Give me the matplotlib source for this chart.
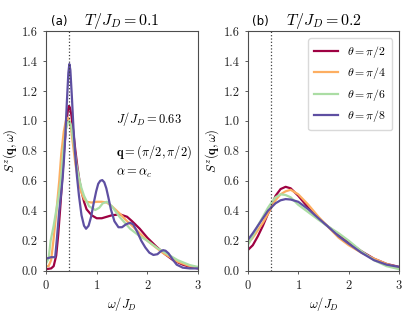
import numpy as np
import matplotlib
matplotlib.use("Agg")
import matplotlib.pyplot as plt

plt.rcParams["font.family"] = "serif"
plt.rcParams["font.serif"] = ["cmr10", "DejaVu Serif"]
plt.rcParams["mathtext.fontset"] = "cm"
plt.rcParams["axes.formatter.use_mathtext"] = True

# panel (a), T/J_D = 0.1
a_x_pi2 = [0, 0.1, 0.15, 0.2, 0.24, 0.28, 0.32, 0.36, 0.4, 0.43, 0.45, 0.47, 0.5, 0.54, 0.58, 0.62, 0.66,
           0.7, 0.75, 0.8, 0.9, 1.0, 1.1, 1.2, 1.3, 1.46, 1.6, 1.7, 1.85, 2.0, 2.18, 2.35, 2.51, 2.7,
           2.84, 3.0]
a_y_pi2 = [0.01, 0.015, 0.03, 0.1, 0.24, 0.42, 0.62, 0.82, 0.98, 1.07, 1.10, 1.09, 1.04, 0.92, 0.8, 0.69,
           0.6, 0.53, 0.46, 0.41, 0.37, 0.35, 0.35, 0.36, 0.37, 0.376, 0.36, 0.33, 0.28, 0.22, 0.16, 0.11,
           0.07, 0.04, 0.026, 0.015]
a_x_pi4 = [0, 0.05, 0.1, 0.145, 0.2, 0.26, 0.3, 0.35, 0.39, 0.42, 0.44, 0.47, 0.5, 0.54, 0.58, 0.62,
           0.66, 0.7, 0.75, 0.8, 0.9, 1.0, 1.1, 1.2, 1.3, 1.46, 1.6, 1.7, 1.85, 2.0, 2.15, 2.3, 2.45,
           2.6, 2.8, 3.0]
a_y_pi4 = [0.03, 0.03, 0.07, 0.2, 0.38, 0.6, 0.78, 0.93, 1.0, 1.02, 1.02, 0.99, 0.93, 0.82, 0.71, 0.63,
           0.57, 0.52, 0.48, 0.46, 0.455, 0.46, 0.46, 0.455, 0.43, 0.38, 0.33, 0.3, 0.25, 0.2, 0.16, 0.12,
           0.09, 0.06, 0.035, 0.02]
a_x_pi6 = [0, 0.05, 0.09, 0.15, 0.2, 0.25, 0.29, 0.34, 0.39, 0.43, 0.46, 0.5, 0.55, 0.6, 0.65, 0.7,
           0.75, 0.85, 0.97, 1.05, 1.12, 1.2, 1.3, 1.45, 1.66, 1.85, 2.0, 2.2, 2.4, 2.6, 2.84, 3.0]
a_y_pi6 = [0.05, 0.08, 0.2, 0.3, 0.4, 0.5, 0.6, 0.8, 0.94, 0.99, 1.0, 0.96, 0.84, 0.71, 0.62, 0.55,
           0.5, 0.43, 0.405, 0.42, 0.45, 0.46, 0.43, 0.36, 0.28, 0.23, 0.2, 0.15, 0.11, 0.07, 0.037,
           0.025]
a_x_pi8 = [0, 0.1, 0.18, 0.21, 0.26, 0.3, 0.33, 0.355, 0.38, 0.41, 0.44, 0.46, 0.48, 0.51, 0.54, 0.57,
           0.61, 0.65, 0.7, 0.75, 0.79, 0.84, 0.89, 0.94, 0.99, 1.03, 1.07, 1.11, 1.15, 1.19, 1.23, 1.28,
           1.35, 1.43, 1.5, 1.58, 1.66, 1.72, 1.8, 1.88, 1.96, 2.04, 2.12, 2.2, 2.26, 2.31, 2.36, 2.42,
           2.5, 2.58, 2.7, 2.84, 3.0]
a_y_pi8 = [0.08, 0.09, 0.09, 0.2, 0.4, 0.52, 0.63, 0.75, 0.9, 1.12, 1.32, 1.38, 1.34, 1.16, 0.96, 0.8,
           0.63, 0.5, 0.37, 0.3, 0.28, 0.3, 0.36, 0.45, 0.53, 0.58, 0.6, 0.605, 0.59, 0.55, 0.49, 0.41,
           0.33, 0.29, 0.29, 0.31, 0.32, 0.31, 0.26, 0.2, 0.155, 0.12, 0.105, 0.11, 0.128, 0.137, 0.133,
           0.115, 0.075, 0.04, 0.02, 0.015, 0.015]

# panel (b), T/J_D = 0.2
b_x = [0, 0.1, 0.2, 0.3, 0.4, 0.46, 0.55, 0.65, 0.75, 0.85, 1.0, 1.2, 1.4, 1.57, 1.8, 2.0, 2.25, 2.5, 2.75, 3.0]
b_y_pi2 = [0.137, 0.17, 0.23, 0.3, 0.38, 0.42, 0.5, 0.545, 0.56, 0.55, 0.5, 0.42, 0.35, 0.3, 0.24, 0.19, 0.13, 0.08, 0.045, 0.025]
b_y_pi4 = [0.18, 0.22, 0.27, 0.32, 0.38, 0.42, 0.47, 0.51, 0.53, 0.54, 0.51, 0.44, 0.36, 0.3, 0.22, 0.17, 0.12, 0.08, 0.045, 0.02]
b_y_pi6 = [0.171, 0.23, 0.3, 0.36, 0.42, 0.45, 0.49, 0.51, 0.505, 0.49, 0.44, 0.39, 0.34, 0.3, 0.25, 0.2, 0.13, 0.07, 0.03, 0.01]
b_y_pi8 = [0.204, 0.25, 0.3, 0.35, 0.4, 0.42, 0.45, 0.47, 0.478, 0.475, 0.46, 0.41, 0.35, 0.3, 0.23, 0.18, 0.12, 0.07, 0.04, 0.025]

labels = [r"$\theta = \pi/2$", r"$\theta = \pi/4$", r"$\theta = \pi/6$", r"$\theta = \pi/8$"]
colors = ["#9e0142", "#fdae61", "#abdda4", "#5e4fa2"]
omega_c = 0.46

fig = plt.figure(figsize=(4.15, 3.14), dpi=100)
ax1 = fig.add_axes([0.111, 0.138, 0.366, 0.763])
ax2 = fig.add_axes([0.597, 0.138, 0.365, 0.763])

a_series = [(a_x_pi2, a_y_pi2), (a_x_pi4, a_y_pi4), (a_x_pi6, a_y_pi6), (a_x_pi8, a_y_pi8)]
for (x, y), c, lab in zip(a_series, colors, labels):
    ax1.plot(x, y, color=c, lw=1.6, label=lab, solid_joinstyle="round")
for y, c, lab in zip([b_y_pi2, b_y_pi4, b_y_pi6, b_y_pi8], colors, labels):
    ax2.plot(b_x, y, color=c, lw=1.6, label=lab, solid_joinstyle="round")

for ax, T, tag in [(ax1, "0.1", "(a)"), (ax2, "0.2", "(b)")]:
    ax.axvline(omega_c, color="0.25", ls=":", lw=0.9)
    ax.set_xlim(0, 3)
    ax.set_ylim(0, 1.6)
    ax.set_xticks([0, 1, 2, 3])
    ax.set_yticks(np.arange(0, 1.61, 0.2))
    ax.set_yticklabels([f"{v:.1f}" for v in np.arange(0, 1.61, 0.2)])
    ax.tick_params(labelsize=9, length=2.5, width=0.6, colors="0.25", labelcolor="0.15")
    for s in ax.spines.values():
        s.set_color("0.3")
        s.set_linewidth(0.8)
    ax.set_xlabel(r"$\omega/J_D$", fontsize=9, labelpad=2)
    ax.set_ylabel(r"$S^z(\mathbf{q},\omega)$", fontsize=9, labelpad=2)
    ax.set_title(r"$T/J_D = %s$" % T, fontsize=11.5, pad=4)
    ax.text(0.03, 1.025, tag, transform=ax.transAxes, fontsize=8.5, family="DejaVu Sans")

ax1.text(1.39, 1.01, r"$J/J_D = 0.63$", fontsize=9, va="center")
ax1.text(1.39, 0.79, r"$\mathbf{q} = (\pi/2, \pi/2)$", fontsize=9, va="center")
ax1.text(1.39, 0.65, r"$\alpha = \alpha_c$", fontsize=9, va="center")

ax2.legend(loc="upper right", fontsize=8.5, handlelength=2.0, borderpad=0.5,
           labelspacing=0.45, framealpha=1, edgecolor="0.85", borderaxespad=0.6)

fig.savefig("out.png", dpi=100)
